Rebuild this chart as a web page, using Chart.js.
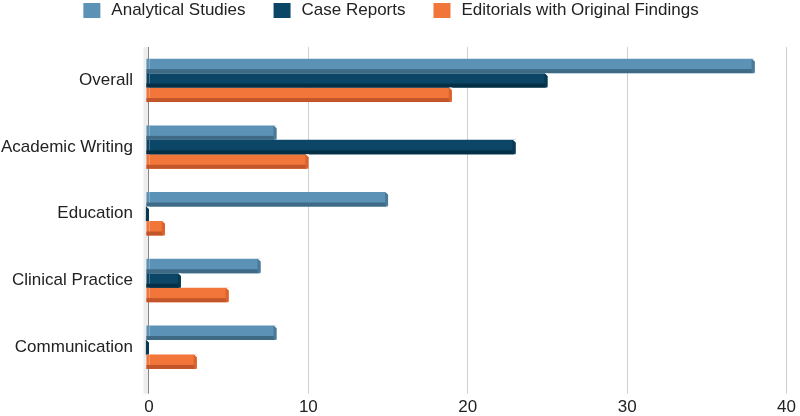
<!DOCTYPE html>
<html lang="en">
<head>
  <meta charset="UTF-8" />
  <title>Study types by category</title>
  <script src="https://cdn.jsdelivr.net/npm/chart.js"></script>
  <style>
    html, body { margin: 0; padding: 0; background: #fff; }
    #wrap { width: 800px; height: 416px; }
  </style>
</head>
<body>
  <div id="wrap"><canvas id="chartCanvas"></canvas></div>
  <script>
    // data
    const categories = ["Overall", "Academic Writing", "Education", "Clinical Practice", "Communication"];
    const seriesNames = ["Analytical Studies", "Case Reports", "Editorials with Original Findings"];
    const analytical = [38, 8, 15, 7, 8];
    const caseReports = [25, 23, 0, 2, 0];
    const editorials = [19, 10, 1, 5, 3];
    const xMax = 40;
    const xStep = 10;

    // styles
    const faceColors = ["#5b92b5", "#0b4666", "#f2763a"];
    const sideColors = ["#4a7a98", "#083852", "#d9622d"];
    const shadeColors = ["#3f6a85", "#052f45", "#c2552a"];

    Chart.defaults.font.family = '"Liberation Sans", Arial, sans-serif';
    Chart.defaults.font.size = 17;
    Chart.defaults.color = "#222";

    // fake 3D look: grey wall, dark underside, bevelled end
    const bevelPlugin = {
      id: "bevel",
      beforeDatasetsDraw(chart) {
        const { ctx, chartArea } = chart;
        const x0 = chart.scales.x.getPixelForValue(0);
        ctx.save();
        ctx.fillStyle = "#ededed";
        ctx.fillRect(x0 - 5.5, chartArea.top, 5, chartArea.bottom + 13 - chartArea.top);
        ctx.restore();
      },
      afterDatasetsDraw(chart) {
        const ctx = chart.ctx;
        ctx.save();
        chart.data.datasets.forEach((ds, i) => {
          chart.getDatasetMeta(i).data.forEach(bar => {
            const { x, y, base, height } = bar.getProps(["x", "y", "base", "height"], true);
            const top = y - height / 2;
            const bottom = y + height / 2;
            // left overhang
            ctx.fillStyle = faceColors[i];
            ctx.fillRect(base - 3, top, 3, height);
            // underside
            ctx.fillStyle = shadeColors[i];
            ctx.fillRect(base - 3, bottom - 4, x - base + 1, 4);
            // end face
            ctx.fillStyle = "#fff";
            ctx.beginPath();
            ctx.moveTo(x - 3, top);
            ctx.lineTo(x + 0.5, top);
            ctx.lineTo(x + 0.5, top + 3);
            ctx.closePath();
            ctx.fill();
            ctx.fillStyle = sideColors[i];
            ctx.beginPath();
            ctx.moveTo(x - 3, top);
            ctx.lineTo(x, top + 3);
            ctx.lineTo(x, bottom - 1);
            ctx.lineTo(x - 3, bottom);
            ctx.closePath();
            ctx.fill();
          });
        });
        ctx.restore();
      }
    };

    const legendPlugin = {
      id: "topLegend",
      afterDraw(chart) {
        const ctx = chart.ctx;
        ctx.save();
        ctx.font = '17px "Liberation Sans", Arial, sans-serif';
        ctx.textBaseline = "middle";
        const items = chart.data.datasets.map((ds, i) => ({
          text: ds.label,
          color: faceColors[i],
          w: 17 + 11 + ctx.measureText(ds.label).width
        }));
        const gap = 28;
        const total = items.reduce((s, it) => s + it.w, 0) + gap * (items.length - 1);
        let x = 391 - total / 2;
        const y = 10.5;
        items.forEach(it => {
          ctx.fillStyle = it.color;
          ctx.fillRect(x, y - 7.5, 17, 15);
          ctx.fillStyle = "#222";
          ctx.fillText(it.text, x + 28, y);
          x += it.w + gap;
        });
        ctx.restore();
      }
    };

    const ctx = document.getElementById("chartCanvas").getContext("2d");
    const chart = new Chart(ctx, {
      type: "bar",
      data: {
        labels: categories,
        datasets: [
          { label: seriesNames[0], data: analytical, backgroundColor: faceColors[0] },
          { label: seriesNames[1], data: caseReports, backgroundColor: faceColors[1] },
          { label: seriesNames[2], data: editorials, backgroundColor: faceColors[2] }
        ]
      },
      options: {
        indexAxis: "y",
        responsive: true,
        maintainAspectRatio: false,
        animation: false,
        layout: { padding: { top: 47, left: -15, right: -10, bottom: -6 } },
        datasets: {
          bar: { categoryPercentage: 0.65, barPercentage: 1.0, borderWidth: 0 }
        },
        scales: {
          x: {
            min: 0,
            max: xMax,
            ticks: { stepSize: xStep, padding: 4, color: "#222" },
            grid: {
              color: c => c.tick && c.tick.value === 0 ? "#333" : "#cfcfcf",
              lineWidth: 1,
              drawTicks: true,
              tickLength: 13
            },
            border: { display: false }
          },
          y: {
            ticks: { padding: 16, color: "#222" },
            grid: { display: false, drawTicks: false },
            border: { display: false }
          }
        },
        plugins: {
          legend: { display: false },
          tooltip: { enabled: false }
        }
      },
      plugins: [bevelPlugin, legendPlugin]
    });
  </script>
</body>
</html>
